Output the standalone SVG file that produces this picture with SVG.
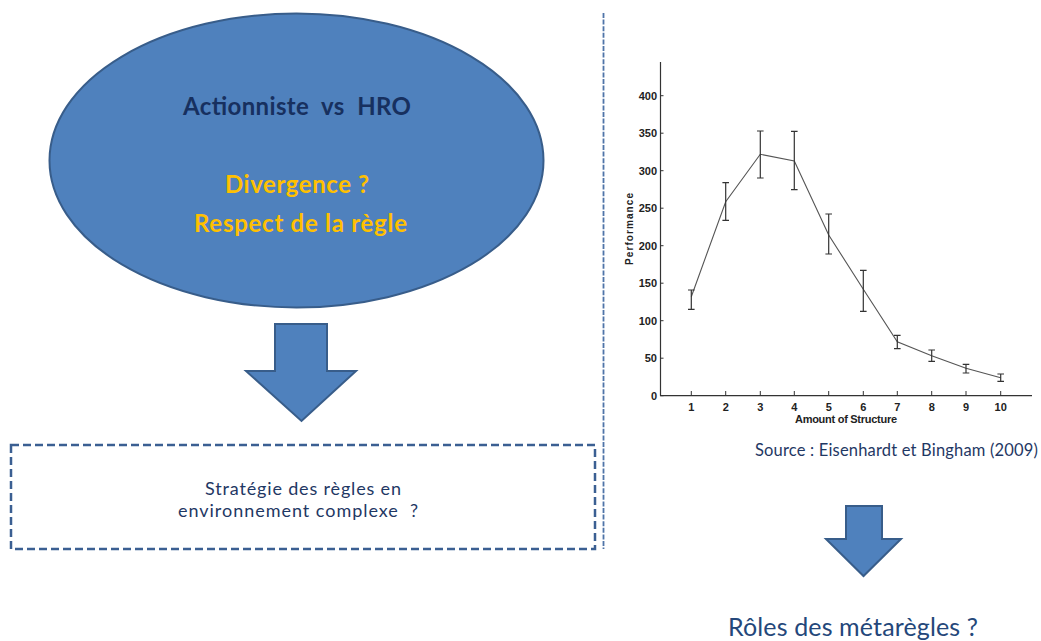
<svg xmlns="http://www.w3.org/2000/svg" width="1041" height="641" viewBox="0 0 1041 641">
<style>
.shape{fill:#4F81BD;stroke:#385D8A;stroke-width:2}
.t{font-family:Lato,"Liberation Sans",sans-serif}
.ax{font-family:"Liberation Sans",Arial,sans-serif;font-weight:bold;font-size:11px;fill:#222}
.axis{stroke:#333;stroke-width:1.2;fill:none}
.err{stroke:#333;stroke-width:1.2;fill:none}
</style>
<rect width="1041" height="641" fill="#fff"/>
<g id="ellipse-node">
<ellipse class="shape" cx="296.5" cy="160.5" rx="247" ry="147"/>
<text class="t" x="297" y="115" text-anchor="middle" font-size="24" font-weight="bold" fill="#17305F" style="white-space:pre" textLength="228">Actionniste  vs  HRO</text>
<text class="t" x="297" y="193" text-anchor="middle" font-size="24" font-weight="bold" fill="#FFC000" textLength="144">Divergence ?</text>
<text class="t" x="300.5" y="232" text-anchor="middle" font-size="24" font-weight="bold" fill="#FFC000" textLength="213">Respect de la règle</text>
</g>
<g id="connectors">
<path class="shape" d="M275,324 H327 V371 H356 L301.5,421 L246,371 H275 Z"/>
<path class="shape" d="M846,506 H882 V539 H901 L863.5,576 L826,539 H846 Z"/>
<line x1="603.5" y1="13" x2="603.5" y2="549" stroke="#4F74A8" stroke-width="1.8" stroke-dasharray="5,1.6"/>
</g>
<g id="strategy-box">
<rect x="11" y="445" width="584" height="104" fill="none" stroke="#3B5F92" stroke-width="2.5" stroke-dasharray="8,4"/>
<text class="t" x="303" y="495" text-anchor="middle" font-size="18" fill="#1F3864" textLength="196">Stratégie des règles en</text>
<text class="t" x="298" y="517" text-anchor="middle" font-size="18" fill="#1F3864" style="white-space:pre" textLength="240">environnement complexe  ?</text>
</g>
<g id="chart">
<line class="axis" x1="660.5" y1="62" x2="660.5" y2="395.7"/>
<line class="axis" x1="660" y1="395.7" x2="1032" y2="395.7"/>
<g stroke="#333" stroke-width="1">
<line x1="660.5" y1="395.7" x2="663.5" y2="395.7"/>
<line x1="660.5" y1="358.2" x2="663.5" y2="358.2"/>
<line x1="660.5" y1="320.7" x2="663.5" y2="320.7"/>
<line x1="660.5" y1="283.2" x2="663.5" y2="283.2"/>
<line x1="660.5" y1="245.7" x2="663.5" y2="245.7"/>
<line x1="660.5" y1="208.2" x2="663.5" y2="208.2"/>
<line x1="660.5" y1="170.7" x2="663.5" y2="170.7"/>
<line x1="660.5" y1="133.2" x2="663.5" y2="133.2"/>
<line x1="660.5" y1="95.7" x2="663.5" y2="95.7"/>
<line x1="691.3" y1="395.7" x2="691.3" y2="391"/>
<line x1="725.7" y1="395.7" x2="725.7" y2="391"/>
<line x1="760.3" y1="395.7" x2="760.3" y2="391"/>
<line x1="794.3" y1="395.7" x2="794.3" y2="391"/>
<line x1="828.7" y1="395.7" x2="828.7" y2="391"/>
<line x1="863.3" y1="395.7" x2="863.3" y2="391"/>
<line x1="897.3" y1="395.7" x2="897.3" y2="391"/>
<line x1="931.7" y1="395.7" x2="931.7" y2="391"/>
<line x1="966" y1="395.7" x2="966" y2="391"/>
<line x1="1000.7" y1="395.7" x2="1000.7" y2="391"/>
</g>
<g class="ax" text-anchor="end">
<text x="657" y="399.7">0</text>
<text x="657" y="362.2">50</text>
<text x="657" y="324.7">100</text>
<text x="657" y="287.2">150</text>
<text x="657" y="249.7">200</text>
<text x="657" y="212.2">250</text>
<text x="657" y="174.7">300</text>
<text x="657" y="137.2">350</text>
<text x="657" y="99.7">400</text>
</g>
<g class="ax" text-anchor="middle">
<text x="691.3" y="411">1</text>
<text x="725.7" y="411">2</text>
<text x="760.3" y="411">3</text>
<text x="794.3" y="411">4</text>
<text x="828.7" y="411">5</text>
<text x="863.3" y="411">6</text>
<text x="897.3" y="411">7</text>
<text x="931.7" y="411">8</text>
<text x="966" y="411">9</text>
<text x="1000.7" y="411">10</text>
<text x="846" y="423" textLength="102">Amount of Structure</text>
<text x="0" y="0" font-size="10" transform="translate(633,229) rotate(-90)" textLength="72">Performance</text>
</g>
<polyline fill="none" stroke="#555" stroke-width="1.1" points="691.3,296.7 725.7,201.7 760.3,154.3 794.3,161 828.7,235 863.3,289.3 897.3,341.7 931.7,355.7 966,368.3 1000.7,377.7"/>
<path class="err" d="M691.3,290V309.3M688,290H694.6M688,309.3H694.6
M725.7,182.7V220.3M722.4,182.7H729M722.4,220.3H729
M760.3,131V178M757,131H763.6M757,178H763.6
M794.3,131.3V189.7M791,131.3H797.6M791,189.7H797.6
M828.7,214V254M825.4,214H832M825.4,254H832
M863.3,270.3V311.3M860,270.3H866.6M860,311.3H866.6
M897.3,335.3V348.7M894,335.3H900.6M894,348.7H900.6
M931.7,350V361.3M928.4,350H935M928.4,361.3H935
M966,364.3V373M962.7,364.3H969.3M962.7,373H969.3
M1000.7,374V381.3M997.4,374H1004M997.4,381.3H1004"/>
</g>
<g id="source-label">
<text class="t" x="755" y="456" font-size="16.5" fill="#1F3864" textLength="283">Source : Eisenhardt et Bingham (2009)</text>
</g>
<g id="metaregles-node">
<text class="t" x="728" y="636" font-size="25" fill="#24477A" textLength="250">Rôles des métarègles ?</text>
</g>
</svg>
